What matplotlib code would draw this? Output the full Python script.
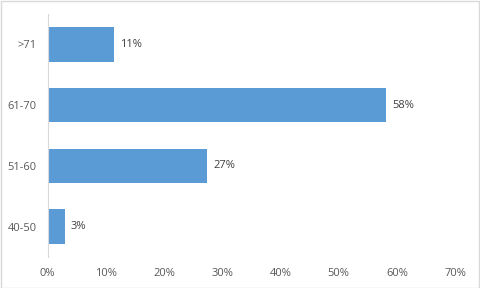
import matplotlib
matplotlib.use("Agg")
import matplotlib.pyplot as plt
from matplotlib.patches import Rectangle

categories = ["40-50", "51-60", "61-70", ">71"]
values = [2.9, 27.3, 58.1, 11.4]
value_labels = ["3%", "27%", "58%", "11%"]
xticks = [0, 10, 20, 30, 40, 50, 60, 70]

text_color = "#595959"
label_color = "#404040"
bar_color = "#5b9bd5"
plt.rcParams["font.family"] = ["Open Sans", "DejaVu Sans"]

fig = plt.figure(figsize=(4.8, 2.88), dpi=100)
ax = fig.add_axes([47.7 / 480, 1 - 257 / 288, (455 - 47.7) / 480, (257 - 14) / 288])

y = range(len(categories))
ax.barh(y, values, height=0.57, color=bar_color)
for yi, v, lab in zip(y, values, value_labels):
    ax.text(v + 1.1, yi, lab, va="center", ha="left", fontsize=8, color=label_color)

ax.set_xlim(0, 70)
ax.set_ylim(-0.5, 3.5)
ax.set_xticks(xticks)
ax.set_xticklabels([f"{t}%" for t in xticks])
ax.set_yticks(list(y))
ax.set_yticklabels(categories)
ax.tick_params(axis="both", length=0, labelsize=8, labelcolor=text_color)
ax.tick_params(axis="y", pad=8)
ax.tick_params(axis="x", pad=8)
for s in ["top", "right", "bottom"]:
    ax.spines[s].set_visible(False)
ax.spines["left"].set_color("#d9d9d9")
ax.spines["left"].set_linewidth(0.8)

fig.patches.append(Rectangle((0.5 / 480, 0.5 / 288), 1 - 1.5 / 480, 1 - 1.5 / 288,
                             transform=fig.transFigure, fill=False,
                             edgecolor="#d9d9d9", linewidth=1))

fig.savefig("out.png", dpi=100)
